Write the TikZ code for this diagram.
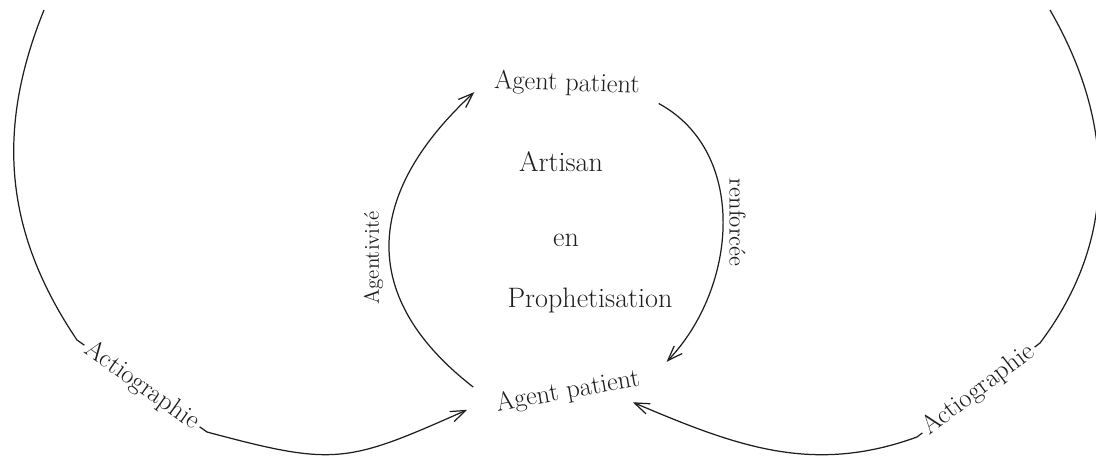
\documentclass[tikz,border=0pt]{standalone}
\usepackage{fontspec}
\usepackage{tikz}
\usetikzlibrary{arrows.meta,positioning}
\usepackage{xcolor}
\definecolor{inkColor}{RGB}{30,30,30}
\newcommand{\bigfont}{\fontsize{16}{19}\selectfont}
\newcommand{\labfont}{\fontsize{15}{18}\selectfont}
\newcommand{\arcfont}{\fontsize{12}{14}\selectfont}
\newcommand{\sidefont}{\fontsize{13}{15}\selectfont}

\begin{document}
\begin{tikzpicture}[x=0.02cm, y=0.02cm,
        ink/.style={draw=inkColor, line width=0.7pt},
        arr/.style={ink, -{Straight Barb[length=3mm, width=2.2mm]}},
        agent/.style={inner sep=0pt, minimum width=4.08cm, minimum height=0.84cm, font=\labfont, text=inkColor},
        word/.style={font=\bigfont, text=inkColor},
        side/.style={text=inkColor, anchor=south},
        onarc/.style={font=\labfont, text=inkColor, fill=white, sloped, inner sep=2pt}
      ]
      \useasboundingbox (0,0) rectangle (1096,457);
      \node[agent, minimum width=3.68cm, rotate=-2] (agtop) at (567,373) {Agent patient};
      \node[agent, rotate=10] (agbot) at (568,65) {Agent patient};
      \node[word] (artisan) at (561,295) {Artisan};
      \node[word] (en) at (566,217) {en};
      \node[word] (proph) at (590,157) {Prophetisation};
      \coordinate (lefttop) at (44,447);
      \coordinate (righttop) at (1050,447);

      \draw[arr] (agbot.167) .. controls (361,157) and (361,260) .. node[side, rotate=90, font=\arcfont, pos=.46] {Agentivité} (agtop.187);
      \draw[arr] (agtop.-10) .. controls (748,305) and (738,170) .. node[side, rotate=-90, font=\sidefont, pos=.5] {renforcée} (agbot.7);
      \draw[arr] (lefttop) to[out=-112, in=124] (77,117) -- node[onarc] {Actiographie} (207,25) to[out=-15, in=204, looseness=1.3] (agbot.west);
      \draw[arr] (righttop) to[out=-60, in=53] (1040,114) -- node[onarc] {Actiographie} (917,20) to[out=-160, in=-23] (agbot.-19);
    \end{tikzpicture}
\end{document}
